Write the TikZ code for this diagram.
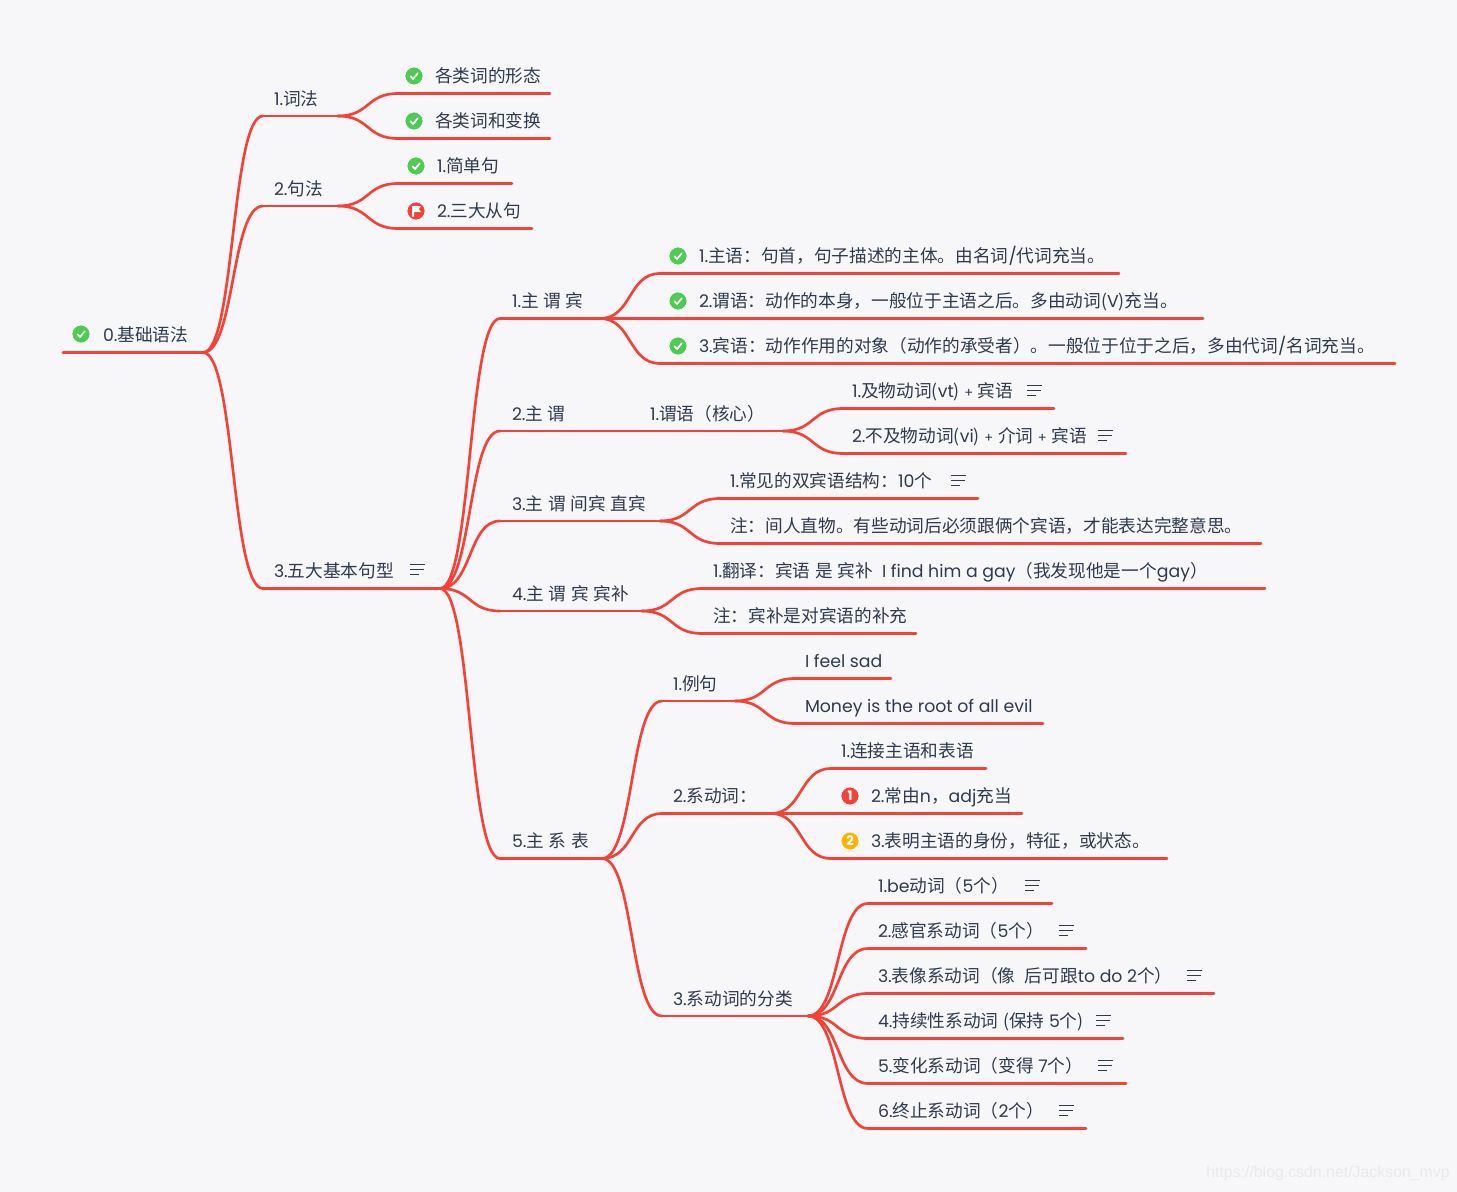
\documentclass[tikz,border=0pt]{standalone}
\usepackage{fontspec}
\setmainfont[Scale=0.98]{Poppins}
\newfontfamily\cjk{Noto Sans CJK SC}
\newfontfamily\markfont{Liberation Sans}
% switch to the CJK face automatically for CJK characters (and round brackets)
\XeTeXinterchartokenstate=1
\newXeTeXintercharclass\cjkcl
\newcount\cjkc
\cjkc="3000 \loop\XeTeXcharclass\cjkc=\cjkcl \ifnum\cjkc<"9FFF \advance\cjkc 1 \repeat
\cjkc="FF00 \loop\XeTeXcharclass\cjkc=\cjkcl \ifnum\cjkc<"FFEF \advance\cjkc 1 \repeat
\XeTeXcharclass`(=\cjkcl
\XeTeXcharclass`)=\cjkcl
\XeTeXinterchartoks 0 \cjkcl={\begingroup\cjk}
\XeTeXinterchartoks 4095 \cjkcl={\begingroup\cjk}
\XeTeXinterchartoks \cjkcl 0={\endgroup}
\XeTeXinterchartoks \cjkcl 4095={\endgroup}
\newcommand\smallplus{{\fontsize{10pt}{10pt}\selectfont +}}
\definecolor{bgc}{HTML}{F7F7FA}
\definecolor{linec}{HTML}{F44336}
\definecolor{textc}{HTML}{2E3A4E}
\definecolor{okc}{HTML}{4FCB55}
\definecolor{orangec}{HTML}{FFB300}
\definecolor{markc}{HTML}{E9E9EC}
\tikzset{
  x=0.75pt,y=-0.75pt,
  redline/.style={draw=linec,line width=2.2pt,line cap=round},
  topic/.style={anchor=south west,inner sep=0pt,outer sep=0pt,minimum height=27pt,text=textc,font=\fontsize{13.25pt}{15pt}\selectfont},
  badge/.style={circle,inner sep=0pt,minimum size=13.5pt,draw=white,line width=0.5pt},
  ok/.pic={\node[badge,fill=okc] {};
    \draw[white,line width=1.25pt,line cap=round,line join=round] (-3.6,0.2) -- (-0.9,3) -- (3.8,-2.8);},
  flagicon/.pic={\node[badge,fill=linec] {};
    \fill[white] (-4,-5) -- (5,-5) -- (2.8,-2) -- (5,1) -- (-2,1) -- (-2,5.5) -- (-4,5.5) -- cycle;},
  noteicon/.pic={\draw[textc,line width=0.75pt] (-7.5,-6) -- (7.5,-6) (-7.5,-1) -- (6.5,-1) (-7,4) -- (1.5,4);},
}
\newcommand\topic[6]{% name, x0, x1, y, padding, text
  \pgfmathsetlengthmacro\tw{(#3-#2)*0.75pt}
  \pgfmathsetlengthmacro\tp{#5*0.75pt}
  \node[topic] (#1) at (#2,#4) {\makebox[\tw][l]{\hspace*{\tp}\rule[-0.33em]{0pt}{1.496em}\smash{#6}\hss}};
  \draw[redline] (#1.south west) -- (#1.south east);}
\newcommand\link[2]{%
  \draw[redline,line width=2pt] (#1.south east) .. controls ([xshift=24pt]#1.south east) and ([xshift=-24pt]#2.south west) .. (#2.south west);}
\begin{document}
\begin{tikzpicture}
\fill[bgc] (0,0) rectangle (1457,1192);
\useasboundingbox (0,0) rectangle (1457,1192);

\topic{root}{63}{203}{352.5}{40}{0.基础语法}
\topic{a}{263}{338}{116}{11}{1.词法}
\topic{aa}{398}{550}{93.5}{37}{各类词的形态}
\topic{ab}{398}{550}{138.5}{37}{各类词和变换}
\topic{b}{263}{338}{206}{11}{2.句法}
\topic{ba}{398}{512}{183.5}{39}{1.简单句}
\topic{bb}{398}{532}{228.5}{39}{2.三大从句}
\topic{c}{263}{440}{588.5}{11}{3.五大基本句型}
\topic{c1}{500}{600}{318.5}{12}{1.主 谓 宾}
\topic{c1a}{660}{1119}{273.5}{39}{1.主语：句首，句子描述的主体。由名词/代词充当。}
\topic{c1b}{660}{1203}{318.5}{39}{2.谓语：动作的本身，一般位于主语之后。多由动词(V)充当。}
\topic{c1c}{660}{1395}{363.5}{39}{3.宾语：动作作用的对象（动作的承受者）。一般位于位于之后，多由代词/名词充当。}
\topic{c2}{500}{576}{431}{12}{2.主 谓}
\topic{c2x}{640}{783}{431}{10}{1.谓语（核心）}
\topic{c2a}{843}{1054}{408.5}{9}{1.及物动词(vt) \smallplus{} 宾语}
\topic{c2b}{843}{1126}{453.5}{9}{2.不及物动词(vi) \smallplus{} 介词 \smallplus{} 宾语}
\topic{c3}{500}{660}{521}{12}{3.主 谓 间宾 直宾}
\topic{c3a}{720}{978}{498.5}{10}{1.常见的双宾语结构：10个}
\topic{c3b}{720}{1261}{543.5}{10}{注：间人直物。有些动词后必须跟俩个宾语，才能表达完整意思。}
\topic{c4}{500}{642}{611}{12}{4.主 谓 宾 宾补}
\topic{c4a}{702}{1265}{588.5}{11}{1.翻译：宾语 是 宾补\ \ I find him a gay（我发现他是一个gay）}
\topic{c4b}{702}{916}{633.5}{11}{注：宾补是对宾语的补充}
\topic{c5}{500}{602}{858.5}{12}{5.主 系 表}
\topic{d}{662}{735}{701}{11}{1.例句}
\topic{da}{795}{891}{678.5}{10}{I feel sad}
\topic{db}{795}{1043}{723.5}{10}{Money is the root of all evil}
\topic{e}{662}{771}{813.5}{11}{2.系动词：}
\topic{ea}{831}{986}{768.5}{10}{1.连接主语和表语}
\topic{eb}{831}{1022}{813.5}{40}{2.常由n，adj充当}
\topic{ec}{831}{1167}{858.5}{40}{3.表明主语的身份，特征，或状态。}
\topic{f}{662}{808}{1016}{11}{3.系动词的分类}
\topic{fa}{868}{1052}{903.5}{10}{1.be动词（5个）}
\topic{fb}{868}{1086}{948.5}{10}{2.感官系动词（5个）}
\topic{fc}{868}{1214}{993.5}{10}{3.表像系动词（像\ \ 后可跟to do 2个）}
\topic{fd}{868}{1123}{1038.5}{10}{4.持续性系动词 (保持 5个)}
\topic{fe}{868}{1126}{1083.5}{10}{5.变化系动词（变得 7个）}
\topic{ff}{868}{1086}{1128.5}{10}{6.终止系动词（2个）}

\link{root}{a}\link{root}{b}\link{root}{c}
\link{a}{aa}\link{a}{ab}\link{b}{ba}\link{b}{bb}
\link{c}{c1}\link{c}{c2}\link{c}{c3}\link{c}{c4}\link{c}{c5}
\link{c1}{c1a}\link{c1}{c1b}\link{c1}{c1c}
\draw[redline] (c2.south east) -- (c2x.south west);
\link{c2x}{c2a}\link{c2x}{c2b}
\link{c3}{c3a}\link{c3}{c3b}\link{c4}{c4a}\link{c4}{c4b}
\link{c5}{d}\link{c5}{e}\link{c5}{f}
\link{d}{da}\link{d}{db}
\link{e}{ea}\link{e}{eb}\link{e}{ec}
\link{f}{fa}\link{f}{fb}\link{f}{fc}\link{f}{fd}\link{f}{fe}\link{f}{ff}

\pic at (81,334) {ok};
\pic at (414,76) {ok};
\pic at (414,121) {ok};
\pic at (416,166) {ok};
\pic at (416,211) {flagicon};
\pic at (678,256) {ok};
\pic at (678,301) {ok};
\pic at (678,346) {ok};
\node[badge,fill=linec,text=white,font=\fontsize{10pt}{10pt}\bfseries\selectfont] (p1) at (850,796) {1};
\node[badge,fill=orangec,text=white,font=\fontsize{10pt}{10pt}\bfseries\selectfont] (p2) at (850,841) {2};

\pic at (417,570) {noteicon};
\pic at (1034,391) {noteicon};
\pic at (1105,436) {noteicon};
\pic at (958,481) {noteicon};
\pic at (1032,886) {noteicon};
\pic at (1066,931) {noteicon};
\pic at (1194,976) {noteicon};
\pic at (1103,1021) {noteicon};
\pic at (1105,1066) {noteicon};
\pic at (1066,1111) {noteicon};

\node[anchor=west,inner sep=0pt,text=markc,font=\markfont\fontsize{11.9pt}{14pt}\selectfont] (wm) at (1206,1173) {https://blog.csdn.net/Jackson\_mvp};
\end{tikzpicture}
\end{document}
